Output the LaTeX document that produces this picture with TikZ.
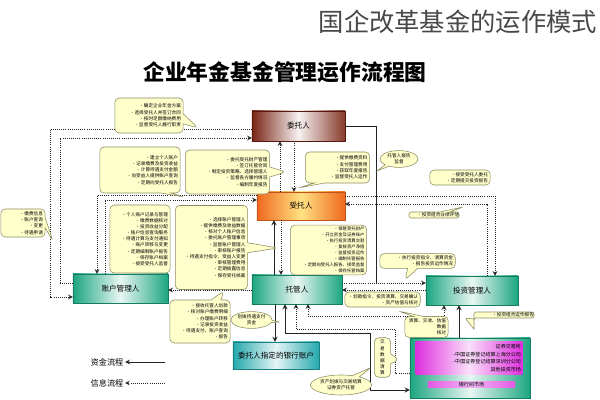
\documentclass[tikz,border=0pt]{standalone}
\usepackage{fontspec}
\setmainfont{Noto Sans CJK SC}
\usepackage{xcolor}
\usepackage{tikz}
\usetikzlibrary{shapes.geometric, shapes.callouts, arrows.meta}
\definecolor{notefill}{RGB}{255,255,204}
\definecolor{noteedge}{RGB}{140,140,100}
\definecolor{roleteal}{RGB}{28,166,128}
\definecolor{bankcyan}{RGB}{36,168,172}
\definecolor{trustbrown}{RGB}{122,36,20}
\definecolor{trusteeorange}{RGB}{240,104,30}
\definecolor{trusteeyellow}{RGB}{255,226,130}
\definecolor{marketmagenta}{RGB}{222,48,222}
\definecolor{titlegray}{RGB}{72,72,72}
\definecolor{flowgray}{RGB}{35,35,35}
\newcommand{\notefont}{\fontsize{3.3}{4.4}\selectfont}
\newcommand{\rolefont}{\fontsize{5.4}{6}\selectfont}

\begin{document}
\begin{tikzpicture}[x=0.025cm, y=-0.025cm, >=stealth,
  every node/.style={inner sep=1pt},
  fund/.style={draw=flowgray, line width=0.6pt},
  info/.style={draw=flowgray, densely dotted, line width=0.5pt},
  rolebox/.style={rectangle, draw=roleteal!75!black, line width=0.3pt, font=\rolefont,
    left color=roleteal, right color=roleteal, middle color=roleteal!10},
  trustbox/.style={rolebox, draw=trustbrown!70!black, left color=trustbrown, right color=trustbrown!90, middle color=trustbrown!6},
  trusteebox/.style={rolebox, draw=trusteeorange!80!black, left color=trusteeorange, right color=trusteeorange, middle color=trusteeyellow},
  bankbox/.style={rolebox, draw=bankcyan!75!black, left color=bankcyan, right color=bankcyan, middle color=bankcyan!12},
  note/.style={rectangle callout, draw=noteedge, fill=notefill, rounded corners=3pt, line width=0.4pt, align=right, font=\notefont, inner sep=1.5pt},
  notebox/.style={rectangle, draw=noteedge, fill=notefill, rounded corners=3pt, line width=0.4pt, align=right, font=\notefont, inner sep=1.5pt},
  noteoval/.style={ellipse callout, draw=noteedge, fill=notefill, line width=0.4pt, align=center, font=\notefont, inner sep=0.5pt},
]
\useasboundingbox (0,0) rectangle (600,400);

% Titles
\node[font=\fontsize{18}{20}\selectfont, text=titlegray, anchor=west] at (317,22) (maintitle) {国企改革基金的运作模式};
\node[font=\fontsize{15.5}{17}\selectfont\bfseries] at (285,72) (subtitle) {企业年金基金管理运作流程图};

% Parties
\node[trustbox, minimum width=2.325cm, minimum height=0.75cm] at (298.5,126) (wt) {委托人};
\node[trusteebox, minimum width=2.2cm, minimum height=0.7cm] at (301,206) (st) {受托人};
\node[rolebox, minimum width=2.375cm, minimum height=0.725cm] at (120.5,288.5) (zh) {账户管理人};
\node[rolebox, minimum width=2.25cm, minimum height=0.725cm] at (297,289.5) (tg) {托管人};
\node[rolebox, minimum width=2.3cm, minimum height=0.725cm] at (472,290.5) (tz) {投资管理人};
\node[bankbox, minimum width=2.15cm, minimum height=0.675cm] at (276,355.5) (bank) {委托人指定的银行账户};

% Markets
\node[rolebox, minimum width=3cm, minimum height=1.5cm] at (470,368) (market) {};
\node[rectangle, minimum height=0.8cm, text width=2.6cm, align=right, font=\fontsize{3.6}{5.6}\selectfont,
  left color=marketmagenta, right color=marketmagenta, middle color=marketmagenta!15] at (469,358) (marketlist)
  {证券交易所\\-中国证券登记结算上海分公司\\-中国证券登记结算深圳分公司\\其他投资市场};
\node[rectangle, minimum width=2.175cm, minimum height=0.13cm, inner sep=0pt, font=\fontsize{3.6}{4}\selectfont,
  left color=marketmagenta!80, right color=marketmagenta!80, middle color=marketmagenta!35] at (471.5,384.5) (marketbar) {银行间市场};

% Information flow
\draw[info,->] (wt.west |- 0,129) -| (50,297) -- (zh.west |- 0,297);
\draw[info,->] (zh.west |- 0,283) -| (60,138) -- (wt.west |- 0,138);
\draw[info,->] (st.west |- 0,195) -| (zh.north -| 97,0);
\draw[info,->] (zh.north -| 105,0) |- (st.west |- 0,200);
\draw[info,->] (st.east |- 0,196) -| (tz.north -| 495,0);
\draw[info,->] (tz.north -| 487,0) |- (st.east |- 0,204);
\draw[info,->] (st.north -| 280,0) -- (wt.south -| 280,0);
\draw[info,->] (wt.south -| 294,0) -- (st.north -| 294,0);
\draw[info,->] (st.south -| 281,0) -- (tg.north -| 281,0);
\draw[info,->] (tg.east |- 0,283) -- (tz.west |- 0,283);
\draw[info,->] (tz.west |- 0,290) -- (tg.east |- 0,290);
\draw[info,->] (tg.west |- 0,290) -- (zh.east |- 0,290);
\draw[info,->] (market.west |- 0,373) -| (395,329) -| (tg.south -| 296,0);
\draw[info,<->] (tg.south -| 308,0) -- (308,316) -- (444,316) -- (tz.south -| 444,0);

% Fund flow
\draw[fund] (wt.east) -| (376,283);
\draw[fund,->] (tg.north -| 274,0) -- (st.south -| 274,0);
\draw[fund,->] (tg.south -| 275,0) -- (bank.north -| 275,0);
\draw[fund,<->] (tg.south -| 285,0) |- (370,333) |- (market.west |- 0,390);
\draw[fund,->] (market.north -| 459,0) -- (tz.south -| 459,0);

% Notes
\node[note, text width=1.6cm, minimum height=0.875cm, callout absolute pointer={(198,128)}] at (149,115.5) (n1)
  {·确定企业年金方案\\·选择受托人并签订合同\\·按时足额缴纳费用\\·监督受托人履行职责};
\node[note, text width=1.9cm, minimum height=1.15cm, callout absolute pointer={(184,197)}] at (140,170) (n2)
  {·建立个人账户\\·记录缴费及投资收益\\·计算待遇支付金额\\·向受益人提供账户查询\\·定期向受托人报告};
\node[note, text width=1.0cm, minimum height=0.7cm, callout absolute pointer={(53,241)}] at (23,223) (n3)
  {·缴费信息\\·账户查询\\·变更\\·待遇申请};
\node[notebox, text width=1.4cm, minimum height=1.7cm] at (140,239) (n4)
  {·个人账户记录与管理\\·缴费数据核对\\·投资收益分配\\·账户信息查询服务\\·待遇计算与支付通知\\·账户转移与变更\\·定期编制账户报告\\·保存账户档案\\·接受受托人监督};
\node[note, text width=2.0cm, minimum height=1.1cm, callout absolute pointer={(286,172)}] at (227.5,172) (n5)
  {·委托受托财产管理\\·签订托管合同\\·制定投资策略、选择管理人\\·监督各方履约情况\\·编制年度报告};
\node[note, text width=1.5cm, minimum height=0.775cm, callout absolute pointer={(298,188)}] at (337.5,167.5) (n6)
  {·提供缴费资料\\·支付管理费用\\·获取年度报告\\·监督受托人运作};
\node[note, text width=1.7cm, minimum height=2.1cm, callout absolute pointer={(278,248)}] at (211.5,247.5) (n7)
  {·选择账户管理人\\·提供缴费及收益数据\\·核对个人账户信息\\·委托账户管理事项\\·监督账户管理人\\·审核账户报告\\·待遇支付指令、受益人变更\\·审核管理费用\\·定期披露信息\\·保存受托档案};
\node[note, text width=1.4cm, minimum height=1.075cm, callout absolute pointer={(224,291)}] at (200,321.5) (n8)
  {·接收托管人划款\\·核对账户缴费明细\\·办理账户转移\\·记录投资收益\\·待遇支付、账户查询\\·报告};
\node[notebox, text width=1.8cm, minimum height=1.15cm, font=\fontsize{3.1}{4.2}\selectfont] at (328.5,250) (n9)
  {·保管受托财产\\·开立资金及证券账户\\·执行投资清算交割\\·复核资产净值\\·监督投资运作\\·编制托管报告\\·定期向受托人报告、接受监督\\·保存托管档案};
\node[noteoval, minimum width=0.95cm, minimum height=0.35cm, callout absolute pointer={(377,171)}] at (399,159) (n10)
  {托管人报告\\监督};
\node[notebox, text width=1.4cm, minimum height=0.375cm] at (460,177.5) (n11)
  {·接受受托人委托\\·定期提交投资报告};
\node[note, rounded corners=1.5pt, inner sep=0pt, text width=1.25cm, minimum height=0.15cm, callout absolute pointer={(463,207)}] at (434,215) (n12)
  {·投资组合业绩评估};
\node[note, text width=1.78cm, minimum height=0.35cm, callout absolute pointer={(405,280)}] at (417.5,261) (n13)
  {·执行投资指令、清算资金\\·报告投资运作情况};
\node[notebox, text width=1.78cm, minimum height=0.375cm] at (382.5,299.5) (n14)
  {·划款指令、投资清算、交易确认\\·资产估值与核对};
\node[note, text width=0.98cm, minimum height=0.35cm, callout absolute pointer={(398,311)}] at (426.5,327) (n15)
  {清算、交收、估值\\数据\\核对};
\node[note, rounded corners=1.5pt, inner sep=0pt, text width=1.5cm, minimum height=0.15cm, callout absolute pointer={(465,318)}] at (504,315) (n16)
  {·投资组合运作报告};
\node[note, align=center, text width=0.3cm, minimum height=0.975cm, callout absolute pointer={(399,360)}] at (382.5,357.5) (n17)
  {交\\易\\数\\据\\清\\算};
\node[noteoval, minimum width=1.05cm, minimum height=0.5cm, callout absolute pointer={(370,368)}] at (341,385) (n18)
  {资产划拨与交易结算\\证券资产托管};
\node[noteoval, minimum width=0.825cm, minimum height=0.4cm, callout absolute pointer={(279,322)}] at (251.5,320) (n19)
  {划拨待遇支付\\资金};

% Legend
\node[font=\fontsize{5.8}{7}\selectfont, anchor=east] at (125,362) (fundkey) {资金流程};
\node[font=\fontsize{5.8}{7}\selectfont, anchor=east] at (125,383) (infokey) {信息流程};
\coordinate (fundtail) at (165,362);
\coordinate (infotail) at (165,383);
\draw[fund,->] (fundtail) -- (fundkey.east);
\draw[info,->] (infotail) -- (infokey.east);

\end{tikzpicture}
\end{document}
